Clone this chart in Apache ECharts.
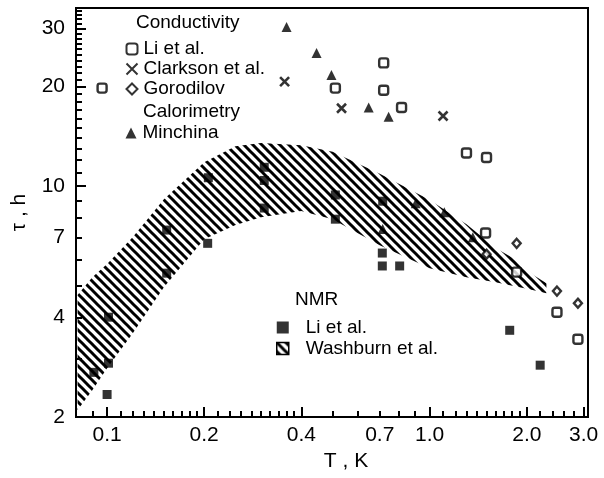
<!DOCTYPE html>
<html><head><meta charset="utf-8">
<script src="https://cdn.jsdelivr.net/npm/echarts@6/dist/echarts.min.js"></script>
<style>html,body{margin:0;padding:0;background:#fff}#c{width:604px;height:478px}</style>
</head><body><div id="c"></div>
<script>
// ---------------- data (T in K, tau in h) ----------------
const liCondT   = [0.0965, 0.51, 0.72, 0.72, 0.818, 1.30, 1.50, 1.49, 1.86, 2.48, 2.88];
const liCondTau = [19.8, 19.8, 23.6, 19.5, 17.3, 12.6, 12.2, 7.21, 5.49, 4.15, 3.44];
const clarksonT   = [0.355, 0.533, 1.10];
const clarksonTau = [20.7, 17.2, 16.3];
const gorodilovT   = [1.50, 1.86, 2.48, 2.88];
const gorodilovTau = [6.22, 6.71, 4.81, 4.42];
const minchinaT   = [0.36, 0.446, 0.496, 0.647, 0.746, 0.715, 0.905, 1.11, 1.36];
const minchinaTau = [30.3, 25.3, 21.7, 17.3, 16.2, 7.41, 8.88, 8.34, 7.0];
const liNmrT   = [0.1, 0.101, 0.091, 0.101, 0.153, 0.153, 0.205, 0.206, 0.307, 0.307, 0.307, 0.51, 0.51, 0.715, 0.713, 0.713, 0.807, 1.77, 2.20];
const liNmrTau = [2.34, 2.91, 2.73, 4.01, 5.45, 7.36, 6.71, 10.6, 11.4, 10.4, 8.58, 9.4, 7.94, 9.0, 6.27, 5.73, 5.73, 3.66, 2.87];
const washburnT     = [0.081, 0.09, 0.1, 0.12, 0.15, 0.2, 0.25, 0.3, 0.4, 0.5, 0.7, 1.0, 1.3, 1.6, 1.9, 2.1, 2.3];
const washburnUpper = [4.68, 5.30, 5.81, 7.00, 9.13, 11.8, 13.2, 13.5, 13.3, 12.7, 10.9, 9.07, 7.67, 6.5, 5.89, 5.37, 5.08];
const washburnLower = [2.10, 2.41, 2.81, 3.58, 4.94, 6.9, 7.62, 8.05, 8.40, 7.94, 6.62, 5.64, 5.30, 5.12, 4.94, 4.84, 4.74];

const xTickLabels = [0.1, 0.2, 0.4, 0.7, 1.0, 2.0, 3.0];
const xMajorTicks = [0.1, 0.2, 0.4, 1.0, 2.0, 3.0];
const xMinorTicks = [0.09, 0.11, 0.12, 0.13, 0.14, 0.15, 0.16, 0.17, 0.18, 0.19,
  0.22, 0.24, 0.26, 0.28, 0.30, 0.32, 0.34, 0.36, 0.38,
  0.5, 0.6, 0.7, 0.8, 0.9, 1.1, 1.2, 1.3, 1.4, 1.5, 1.6, 1.7, 1.8, 1.9, 2.2, 2.4, 2.6, 2.8];
const yTickLabels = [2, 4, 7, 10, 20, 30];
const yMajorTicks = [10, 20, 30];
const yMinorTicks = [3, 4, 5, 6, 7, 8, 9, 11, 12, 13, 14, 15, 16, 17, 18, 19,
  21, 22, 23, 24, 25, 26, 27, 28, 29, 31, 32, 33, 34];

// ---------------- helpers ----------------
const L = v => Math.log10(v);
const pts = (ts, vs) => ts.map((t, i) => [L(t), L(vs[i])]);
const FONT = '"Liberation Sans", Arial, Helvetica, sans-serif';

const cv = document.createElement('canvas');
cv.width = 9; cv.height = 9;
const ctx = cv.getContext('2d');
ctx.strokeStyle = '#000'; ctx.lineWidth = 3;
for (const c of [-9, 0, 9]) { ctx.beginPath(); ctx.moveTo(-3, c - 3); ctx.lineTo(12, c + 12); ctx.stroke(); }
const hatch = { image: cv, repeat: 'repeat' };

const X_MIN = L(0.0801), X_MAX = L(3.095), Y_MIN = L(2), Y_MAX = L(34.6);

const chart = echarts.init(document.getElementById('c'));
const baseAxis = { type: 'value', splitLine: { show: false } };
chart.setOption({
  animation: false,
  backgroundColor: '#fff',
  grid: { left: 76, right: 16, top: 8, bottom: 61, show: true, borderColor: '#000', borderWidth: 2, containLabel: false },
  graphic: [
    { type: 'text', style: { x: 136, y: 23, text: 'Conductivity', font: '19px ' + FONT, fill: '#000', verticalAlign: 'middle' } },
    { type: 'text', style: { x: 143, y: 112, text: 'Calorimetry', font: '19px ' + FONT, fill: '#000', verticalAlign: 'middle' } },
    { type: 'text', style: { x: 295, y: 300, text: 'NMR', font: '19px ' + FONT, fill: '#000', verticalAlign: 'middle' } }
  ],
  legend: [
    { data: ['Li et al.', 'Clarkson et al.', 'Gorodilov'], orient: 'vertical', left: 125.5, top: 39, padding: 0,
      itemWidth: 11, itemHeight: 11, itemGap: 0, selectedMode: false,
      textStyle: { fontSize: 19, fontFamily: FONT, color: '#000', lineHeight: 20, padding: [0, 0, 0, 1] } },
    { data: ['Minchina'], orient: 'vertical', left: 125.5, top: 123, padding: 0,
      itemWidth: 11, itemHeight: 11, selectedMode: false,
      textStyle: { fontSize: 19, fontFamily: FONT, color: '#000', lineHeight: 20, padding: [0, 0, 0, 1] } },
    { data: [{ name: 'Li et al. (NMR)', icon: 'rect' }, { name: 'Washburn et al.', icon: 'rect', itemStyle: { borderColor: '#000', borderWidth: 1.5 } }],
      orient: 'vertical', left: 276, top: 317, padding: 0,
      itemWidth: 12, itemHeight: 12, itemGap: 0, selectedMode: false,
      formatter: n => n.replace(' (NMR)', ''),
      textStyle: { fontSize: 19, fontFamily: FONT, color: '#000', lineHeight: 21, padding: [0, 0, 0, 12] } }
  ],
  xAxis: [
    Object.assign({}, baseAxis, {
      min: X_MIN, max: X_MAX, position: 'bottom',
      axisLine: { show: true, onZero: false, lineStyle: { color: '#000', width: 2 } },
      axisTick: { show: true, inside: true, length: 10, lineStyle: { color: '#000', width: 2 }, customValues: xMajorTicks.map(L) },
      axisLabel: { customValues: xTickLabels.map(L), formatter: v => Math.pow(10, v).toFixed(1),
        fontSize: 21, fontFamily: FONT, color: '#000', margin: 8 },
      name: 'T , K', nameLocation: 'middle', nameGap: 34,
      nameTextStyle: { fontSize: 21, fontFamily: FONT, color: '#000', padding: [0, 0, 0, 28] }
    }),
    Object.assign({}, baseAxis, {
      min: X_MIN, max: X_MAX, position: 'bottom',
      axisLine: { show: false, onZero: false },
      axisTick: { show: true, inside: true, length: 6, lineStyle: { color: '#000', width: 2 }, customValues: xMinorTicks.map(L) },
      axisLabel: { show: false }
    })
  ],
  yAxis: [
    Object.assign({}, baseAxis, {
      min: Y_MIN, max: Y_MAX, position: 'left',
      axisLine: { show: true, onZero: false, lineStyle: { color: '#000', width: 2 } },
      axisTick: { show: true, inside: true, length: 10, lineStyle: { color: '#000', width: 2 }, customValues: yMajorTicks.map(L) },
      axisLabel: { customValues: yTickLabels.map(L), formatter: v => String(Math.round(Math.pow(10, v))),
        fontSize: 21, fontFamily: FONT, color: '#000', margin: 11 },
      name: 'τ , h', nameLocation: 'middle', nameGap: 46,
      nameTextStyle: { fontSize: 21, fontFamily: FONT, color: '#000' }
    }),
    Object.assign({}, baseAxis, {
      min: Y_MIN, max: Y_MAX, position: 'left',
      axisLine: { show: false, onZero: false },
      axisTick: { show: true, inside: true, length: 6, lineStyle: { color: '#000', width: 2 }, customValues: yMinorTicks.map(L) },
      axisLabel: { show: false }
    })
  ],
  series: [
    { name: 'Washburn et al.', type: 'custom', z: 1, xAxisIndex: 0, yAxisIndex: 0,
      itemStyle: { color: hatch },
      data: [[L(washburnT[0]), L(washburnLower[0])]],
      encode: { x: 0, y: 1 },
      renderItem: (params, api) => {
        const up = washburnT.map((t, i) => api.coord([L(t), L(washburnUpper[i])]));
        const lo = washburnT.map((t, i) => api.coord([L(t), L(washburnLower[i])])).reverse();
        return { type: 'polygon', shape: { points: up.concat(lo) }, style: { fill: hatch, stroke: null } };
      }
    },
    { name: 'Li et al. (NMR)', type: 'scatter', z: 3, symbol: 'rect', symbolSize: 9,
      itemStyle: { color: '#000' }, data: pts(liNmrT, liNmrTau) },
    { name: 'Minchina', type: 'scatter', z: 3, symbol: 'triangle', symbolSize: 10,
      itemStyle: { color: '#000' }, data: pts(minchinaT, minchinaTau) },
    { name: 'Li et al.', type: 'scatter', z: 4, symbol: 'roundRect', symbolSize: 9,
      itemStyle: { color: '#fff', borderColor: '#000', borderWidth: 2.4 }, data: pts(liCondT, liCondTau) },
    { name: 'Clarkson et al.', type: 'scatter', z: 4, symbol: 'path://M0,0L10,10M10,0L0,10', symbolSize: 9,
      itemStyle: { color: 'transparent', borderColor: '#000', borderWidth: 2.6 }, data: pts(clarksonT, clarksonTau) },
    { name: 'Gorodilov', type: 'scatter', z: 4, symbol: 'diamond', symbolSize: [8, 9],
      itemStyle: { color: '#fff', borderColor: '#000', borderWidth: 2.4 }, data: pts(gorodilovT, gorodilovTau) }
  ]
});
</script></body></html>
